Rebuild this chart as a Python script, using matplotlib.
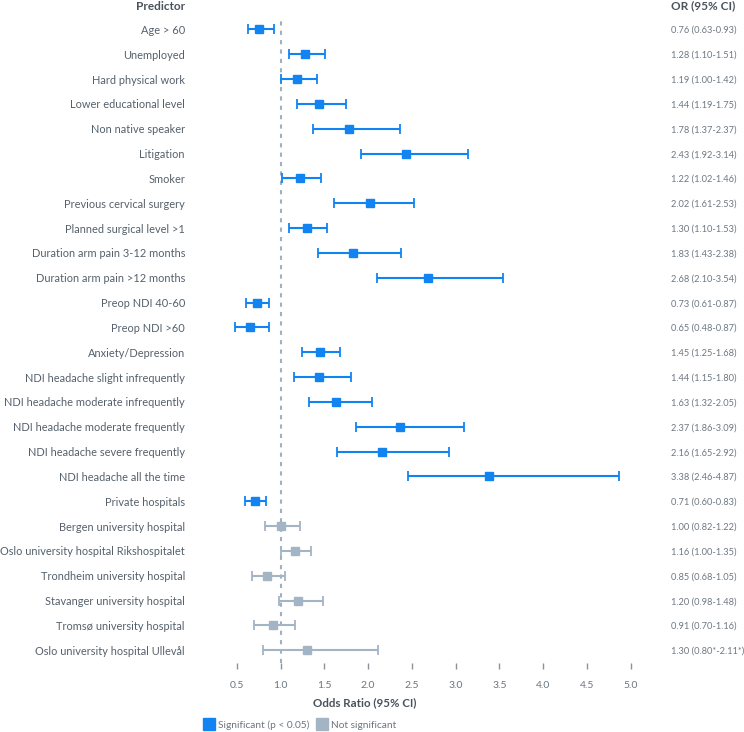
import matplotlib
matplotlib.use('Agg')
import matplotlib.pyplot as plt
import matplotlib.transforms as mtransforms
from matplotlib.lines import Line2D

plt.rcParams['font.family'] = ['Lato', 'DejaVu Sans']

# data
predictors = ['Age > 60', 'Unemployed', 'Hard physical work', 'Lower educational level',
              'Non native speaker', 'Litigation', 'Smoker', 'Previous cervical surgery',
              'Planned surgical level >1', 'Duration arm pain 3-12 months',
              'Duration arm pain >12 months', 'Preop NDI 40-60', 'Preop NDI >60',
              'Anxiety/Depression', 'NDI headache slight infrequently',
              'NDI headache moderate infrequently', 'NDI headache moderate frequently',
              'NDI headache severe frequently', 'NDI headache all the time',
              'Private hospitals', 'Bergen university hospital',
              'Oslo university hospital Rikshospitalet', 'Trondheim university hospital',
              'Stavanger university hospital', 'Tromsø university hospital',
              'Oslo university hospital Ullevål']
odds = [0.76, 1.28, 1.19, 1.44, 1.78, 2.43, 1.22, 2.02, 1.30, 1.83, 2.68, 0.73, 0.65,
        1.45, 1.44, 1.63, 2.37, 2.16, 3.38, 0.71, 1.00, 1.16, 0.85, 1.20, 0.91, 1.30]
ci_low = [0.63, 1.10, 1.00, 1.19, 1.37, 1.92, 1.02, 1.61, 1.10, 1.43, 2.10, 0.61, 0.48,
          1.25, 1.15, 1.32, 1.86, 1.65, 2.46, 0.60, 0.82, 1.00, 0.68, 0.98, 0.70, 0.80]
ci_high = [0.93, 1.51, 1.42, 1.75, 2.37, 3.14, 1.46, 2.53, 1.53, 2.38, 3.54, 0.87, 0.87,
           1.68, 1.80, 2.05, 3.09, 2.92, 4.87, 0.83, 1.22, 1.35, 1.05, 1.48, 1.16, 2.11]
significant = [True] * 20 + [False] * 6
or_labels = ['%.2f (%.2f-%.2f)' % (o, l, h) for o, l, h in zip(odds, ci_low, ci_high)]
or_labels[-1] = '1.30 (0.80*-2.11*)'
xticks = [0.5, 1.0, 1.5, 2.0, 2.5, 3.0, 3.5, 4.0, 4.5, 5.0]

sig_col = '#1284f2'
ns_col = '#a3b4c5'
txt_col = '#55606b'
val_col = '#6e7882'

W, H = 744, 732
fig = plt.figure(figsize=(W / 100, H / 100), dpi=100)
ax = fig.add_axes([200 / W, 1 - 662.7 / H, 450 / W, (662.7 - 17) / H])

x0 = 1 + (200 - 280.5) / 87.56
x1 = 1 + (650 - 280.5) / 87.56
ax.set_xlim(x0, x1)
ax.set_ylim(len(predictors) - 0.5, -0.5)

ax.axvline(1.0, color='#9fb0c2', lw=1.5, ls=(0, (2, 2.5)), zorder=1)

for i in range(len(predictors)):
    c = sig_col if significant[i] else ns_col
    ax.errorbar(odds[i], i, xerr=[[odds[i] - ci_low[i]], [ci_high[i] - odds[i]]],
                fmt='s', color=c, ecolor=c, elinewidth=1.5, capsize=3.5, capthick=1.3,
                markersize=6, zorder=3)

for s in ax.spines.values():
    s.set_visible(False)
ax.set_yticks([])
ax.set_xticks(xticks)
ax.set_xticklabels(['%.1f' % t for t in xticks])
ax.tick_params(axis='x', direction='out', length=4, width=1, color='#8a939c',
               labelsize=7.5, labelcolor='#6b7580', pad=9)

trans = mtransforms.blended_transform_factory(fig.transFigure, ax.transData)
for i, p in enumerate(predictors):
    ax.text(185 / W, i + 0.04, p, transform=trans, ha='right', va='center',
            fontsize=7.9, color=txt_col)
    ax.text(671 / W, i + 0.04, or_labels[i], transform=trans, ha='left', va='center',
            fontsize=6.7, color=val_col)

fig.text(185 / W, 1 - 6 / H, 'Predictor', ha='right', va='center', fontsize=8.5,
         fontweight='bold', color='#4a525b')
fig.text(671 / W, 1 - 6 / H, 'OR (95% CI)', ha='left', va='center', fontsize=8.5,
         fontweight='bold', color='#4a525b')
fig.text(365 / W, 1 - 703 / H, 'Odds Ratio (95% CI)', ha='center', va='center',
         fontsize=8.3, fontweight='bold', color='#4a525b')

handles = [Line2D([], [], ls='none', marker='s', markersize=8, color=sig_col),
           Line2D([], [], ls='none', marker='s', markersize=8, color=ns_col)]
fig.legend(handles, ['Significant (p < 0.05)', 'Not significant'], ncol=2,
           loc='center left', bbox_to_anchor=(205 / W, 1 - 725 / H), frameon=False,
           fontsize=7.3, labelcolor='#6b7580', handlelength=0.8, handletextpad=0.5,
           columnspacing=0.8, borderpad=0, borderaxespad=0)

fig.savefig('out.png', dpi=100)
